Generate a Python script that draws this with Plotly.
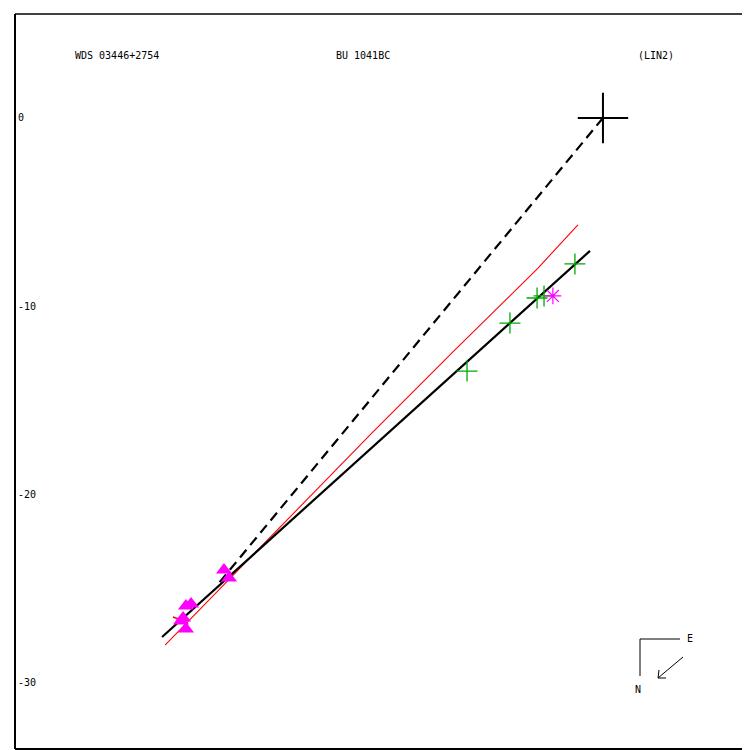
import plotly.graph_objects as go

# ---- data (arcsec) ----
header_left = "WDS 03446+2754"
header_mid = "BU 1041BC"
header_right = "(LIN2)"

ytick_vals = [0, -10, -20, -30]
ytick_text = ["0", "-10", "-20", "-30"]

primary_x = [0.0]
primary_y = [0.0]

dash_x = [0.0, -20.4]
dash_y = [0.0, -24.7]

fit_x = [-23.42, -0.69]
fit_y = [-27.56, -7.06]

orbit_x = [-23.26, -12.37, -7.86, -3.45, -1.33]
orbit_y = [-27.99, -16.83, -12.32, -7.97, -5.68]

resid_x = [-22.84, -22.25]
resid_y = [-26.50, -26.71]

green_x = [-1.49, -3.50, -3.13, -4.94, -7.22]
green_y = [-7.75, -9.56, -9.45, -10.89, -13.44]

star_x = [-2.66]
star_y = [-9.45]

tri_x = [-20.13, -19.86, -22.15, -21.88, -22.30, -22.15, -22.41]
tri_y = [-24.00, -24.43, -25.92, -25.81, -26.55, -27.14, -26.71]

XR = [-31.23, 7.81]
YR = [-33.51, 5.52]

FONT = "DejaVu Sans Mono"

fig = go.Figure()
fig.add_trace(go.Scatter(x=orbit_x, y=orbit_y, mode="lines",
                         line=dict(color="red", width=1.1)))
fig.add_trace(go.Scatter(x=resid_x, y=resid_y, mode="lines",
                         line=dict(color="red", width=1.5)))
fig.add_trace(go.Scatter(x=dash_x, y=dash_y, mode="lines",
                         line=dict(color="black", width=2.2, dash="10px,6px")))
fig.add_trace(go.Scatter(x=fit_x, y=fit_y, mode="lines",
                         line=dict(color="black", width=2.2)))
fig.add_trace(go.Scatter(x=tri_x, y=tri_y, mode="markers",
                         marker=dict(symbol="triangle-up", size=14, color="magenta",
                                     line=dict(width=0))))
fig.add_trace(go.Scatter(x=green_x, y=green_y, mode="markers",
                         marker=dict(symbol="cross-thin-open", size=15, color="#00aa00",
                                     line=dict(color="#00aa00", width=1.3))))
fig.add_trace(go.Scatter(x=star_x, y=star_y, mode="markers",
                         marker=dict(symbol="asterisk-open", size=14, color="magenta",
                                     line=dict(color="magenta", width=1.2))))
fig.add_trace(go.Scatter(x=primary_x, y=primary_y, mode="markers",
                         marker=dict(symbol="cross-thin-open", size=36, color="black",
                                     line=dict(color="black", width=2))))

OFF = 8  # page offset of the figure in the browser window
L, T, B, R = 15 - OFF, 14 - OFF, 749 - OFF, 750 - OFF
W, H = R - L, B - T


def px(xp):
    return (xp - OFF - L) / W


def py(yp):
    return (B - (yp - OFF)) / H


shapes = [
    dict(type="line", xref="paper", yref="paper", x0=0, x1=0, y0=0, y1=1,
         line=dict(color="black", width=2)),
    dict(type="line", xref="paper", yref="paper", x0=0, x1=1.02, y0=1, y1=1,
         line=dict(color="black", width=1.5)),
    dict(type="line", xref="paper", yref="paper", x0=0, x1=1.02, y0=0, y1=0,
         line=dict(color="black", width=2)),
    # compass
    dict(type="line", xref="paper", yref="paper", x0=px(640), x1=px(680), y0=py(639), y1=py(639),
         line=dict(color="black", width=1)),
    dict(type="line", xref="paper", yref="paper", x0=px(640), x1=px(640), y0=py(639), y1=py(676),
         line=dict(color="black", width=1)),
    dict(type="line", xref="paper", yref="paper", x0=px(683), x1=px(658), y0=py(657), y1=py(678),
         line=dict(color="black", width=1)),
    dict(type="line", xref="paper", yref="paper", x0=px(658), x1=px(659), y0=py(678), y1=py(670),
         line=dict(color="black", width=1)),
    dict(type="line", xref="paper", yref="paper", x0=px(658), x1=px(666), y0=py(678), y1=py(678),
         line=dict(color="black", width=1)),
]

ann = []
for v, t in zip(ytick_vals, ytick_text):
    ann.append(dict(x=px(16), xref="paper", y=v, yref="y", text=t, showarrow=False,
                    xanchor="left", yanchor="middle", font=dict(family=FONT, size=10, color="black")))
for txt, xp in [(header_left, 73), (header_mid, 334), (header_right, 636)]:
    ann.append(dict(x=px(xp), xref="paper", y=py(55), yref="paper", text=txt, showarrow=False,
                    xanchor="left", yanchor="middle", font=dict(family=FONT, size=10, color="black")))
ann.append(dict(x=px(685), xref="paper", y=py(638), yref="paper", text="E", showarrow=False,
                xanchor="left", yanchor="middle", font=dict(family=FONT, size=10, color="black")))
ann.append(dict(x=px(638), xref="paper", y=py(689), yref="paper", text="N", showarrow=False,
                xanchor="center", yanchor="middle", font=dict(family=FONT, size=10, color="black")))

fig.update_layout(
    width=750, height=750,
    margin=dict(l=L, r=750 - R, t=T, b=750 - B),
    paper_bgcolor="white", plot_bgcolor="white",
    showlegend=False,
    xaxis=dict(range=XR, visible=False, showgrid=False, zeroline=False),
    yaxis=dict(range=YR, visible=False, showgrid=False, zeroline=False),
    shapes=shapes, annotations=ann,
)

fig.write_html("out.html")
